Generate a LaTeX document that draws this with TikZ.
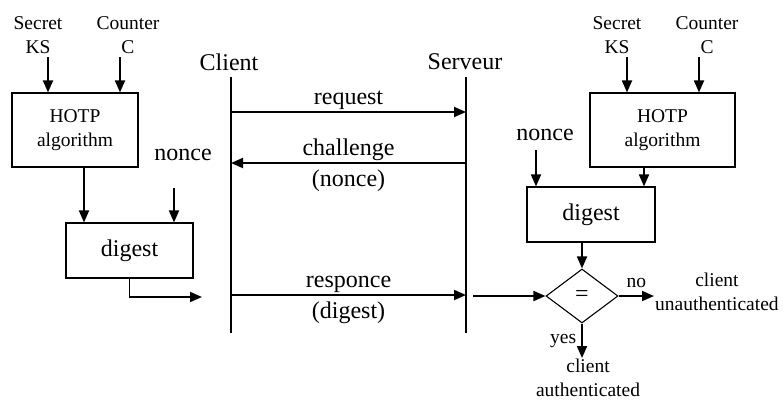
\documentclass[tikz,border=0pt]{standalone}
\usepackage{fontspec}
\setmainfont{Liberation Serif}
\usetikzlibrary{positioning,arrows.meta,shapes.geometric}

\begin{document}
\begin{tikzpicture}[x=1pt, y=-1pt,
    arr/.style={-{Triangle[length=12pt,width=10pt]}, line width=1.8pt},
    blk/.style={draw, line width=1.1pt, align=center},
    big/.style={font=\fontsize{24}{26}\selectfont, inner sep=1pt},
    sml/.style={font=\fontsize{19.5}{24}\selectfont, align=center, inner sep=1pt}]
    \useasboundingbox (0,0) rectangle (783,405);

    % Client side: HOTP block
    \node[blk, sml, minimum width=126pt, minimum height=74pt] (hotpC) at (75,130) {HOTP\\algorithm};
    \node[sml] (ksC) at (38,35) {Secret\\KS};
    \node[sml] (ctrC) at (128,35) {Counter\\C};
    \coordinate (ksCend) at (48,57);
    \coordinate (ctrCend) at (120,57);
    \draw[arr] (ksCend) -- (ksCend |- hotpC.north);
    \draw[arr] (ctrCend) -- (ctrCend |- hotpC.north);

    % Client side: digest
    \node[blk, big, minimum width=127pt, minimum height=55pt] (digC) at (129.5,250.5) {digest};
    \node[big] (nonceC) at (183,155) {nonce};
    \coordinate (nonceCend) at (174,188);
    \draw[arr] (hotpC.south -| 84,0) -- (84,0 |- digC.north);
    \draw[arr] (nonceCend) -- (nonceCend |- digC.north);
    \coordinate (digCout) at (202,297);
    \draw[arr] (digC.south) |- (digCout);

    % Lifelines
    \node[big] (client) at (229,62) {Client};
    \node[big] (serveur) at (465,62) {Serveur};
    \coordinate (clTop) at (231,77);
    \coordinate (clBot) at (231,333);
    \coordinate (svTop) at (466,77);
    \coordinate (svBot) at (466,333);
    \draw[line width=1.2pt] (clTop) -- (clBot);
    \draw[line width=1.2pt] (svTop) -- (svBot);

    % Messages
    \draw[arr] (clTop |- 0,112) -- (svTop |- 0,112) node[midway, above, big] {request};
    \draw[arr] (svTop |- 0,163) -- (clTop |- 0,163)
        node[midway, above, big] {challenge} node[midway, below=5pt, big] {(nonce)};
    \draw[arr] (clTop |- 0,295) -- (svTop |- 0,295)
        node[midway, above, big] {responce} node[midway, below=5pt, big] {(digest)};

    % Server side: HOTP block
    \node[blk, sml, minimum width=145pt, minimum height=74pt] (hotpS) at (662.5,130) {HOTP\\algorithm};
    \node[sml] (ksS) at (617,35) {Secret\\KS};
    \node[sml] (ctrS) at (707,35) {Counter\\C};
    \coordinate (ksSend) at (627,57);
    \coordinate (ctrSend) at (699,57);
    \draw[arr] (ksSend) -- (ksSend |- hotpS.north);
    \draw[arr] (ctrSend) -- (ctrSend |- hotpS.north);

    % Server side: digest
    \node[blk, big, minimum width=128pt, minimum height=55pt] (digS) at (591,214.5) {digest};
    \node[big] (nonceS) at (545,135) {nonce};
    \coordinate (nonceSend) at (536,150);
    \draw[arr] (nonceSend) -- (nonceSend |- digS.north);
    \draw[arr] (hotpS.south -| 644,0) -- (644,0 |- digS.north);

    % Comparison
    \node[draw, diamond, line width=1.1pt, minimum width=72pt, minimum height=54pt, inner sep=0pt, big] (eq) at (582,296) {=};
    \draw[arr] (digS.south -| eq.north) -- (eq.north);
    \coordinate (eqIn) at (473,296);
    \draw[arr] (eqIn) -- (eq.west);
    \node[sml, anchor=west] (unauth) at (654,292) {client\\unauthenticated};
    \draw[arr] (eq.east) -- (eq.east -| unauth.west) node[midway, above=6pt, sml] {no};
    \node[sml, anchor=north] (auth) at (588,358) {client\\authenticated};
    \draw[arr] (eq.south) -- (eq.south |- auth.north) node[midway, left=4pt, sml] {yes};
\end{tikzpicture}
\end{document}
